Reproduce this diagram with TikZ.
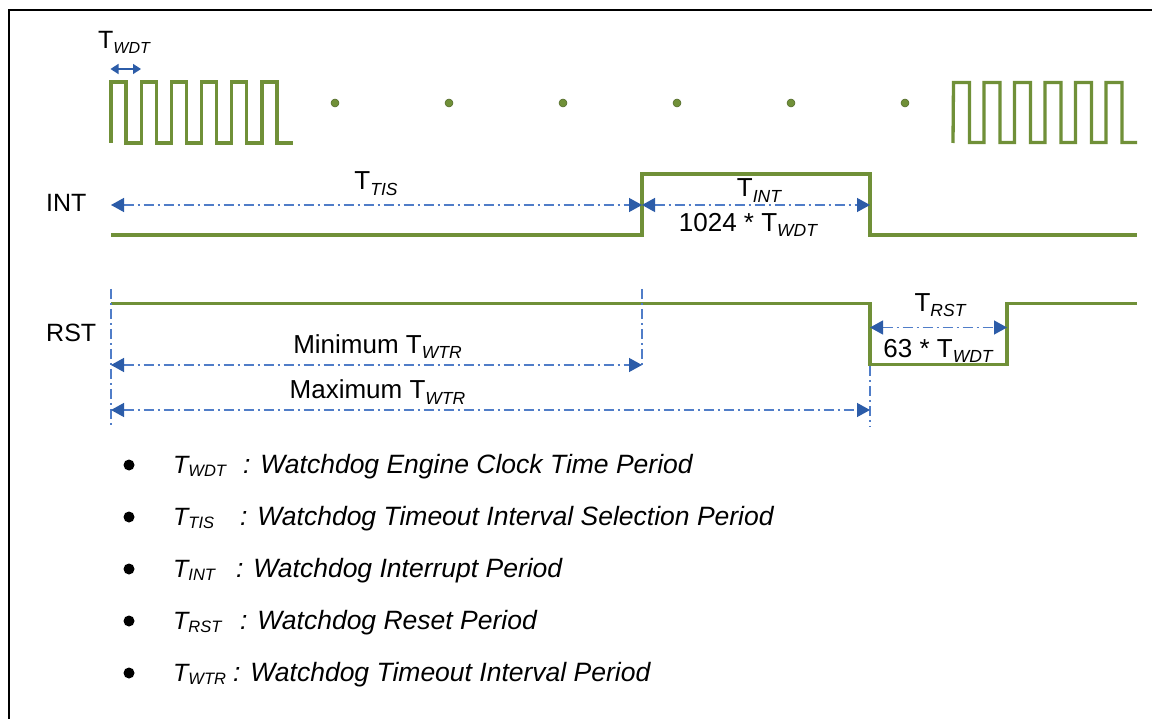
\documentclass[tikz,border=0pt]{standalone}
\usepackage{fontspec}
\setmainfont{Liberation Sans}
\usetikzlibrary{arrows.meta}
\definecolor{wave}{RGB}{112,144,56}
\definecolor{dimline}{RGB}{80,125,200}
\definecolor{dimhead}{RGB}{44,92,168}
\newcommand{\mainsz}{\fontsize{25}{28}\selectfont}
\newcommand{\lblsz}{\fontsize{26}{29}\selectfont}
\newcommand{\bulsz}{\fontsize{26.5}{30}\selectfont}
\newcommand{\sbs}[1]{\raisebox{-5.5pt}{\fontsize{17.5}{17.5}\selectfont\itshape #1}}
\newcommand{\sbt}[1]{\raisebox{-5.5pt}{\fontsize{16}{16}\selectfont\itshape #1}}
\newcommand{\sbb}[1]{\raisebox{-3pt}{\fontsize{16.5}{16.5}\selectfont\itshape #1}}
\tikzset{
  wavestyle/.style={draw=wave, line width=3.3pt, line join=miter},
  dimarrow/.style={draw=dimline, line width=1.3pt, dash pattern=on 10pt off 4pt on 2pt off 4pt,
     {Triangle[length=13pt,width=14pt,color=dimhead]}-{Triangle[length=13pt,width=14pt,color=dimhead]}},
  guide/.style={draw=dimline, line width=1.2pt, dash pattern=on 10pt off 4pt on 2pt off 4pt},
  lbl/.style={inner sep=0pt, font=\lblsz, anchor=base},
  bul/.style={inner sep=0pt, font=\bulsz\itshape, anchor=base west},
  gdot/.style={circle, fill=wave, draw=wave!70!black, line width=0.5pt, minimum size=8pt, inner sep=0pt},
}
\begin{document}
\begin{tikzpicture}[x=1pt,y=-1pt]
\useasboundingbox (0,0) rectangle (1152,719);
\fill[white] (0,0) rectangle (1152,719);
% frame
\draw[black, line width=1.4pt] (9,10) rectangle (1170,740);

% clock waveform left
\draw[wavestyle] (111,143)
  \foreach \i in {0,...,5} { -- ({111+30.2*\i},82) -- ({126+30.2*\i},82) -- ({126+30.2*\i},143) -- ({141.2+30.2*\i},143) }
  -- (293,143);
% clock waveform right
\draw[wavestyle] (953,143)
  \foreach \i in {0,...,5} { -- ({953.5+30.5*\i},82.5) -- ({969.5+30.5*\i},82.5) -- ({969.5+30.5*\i},142.5) -- ({984+30.5*\i},142.5) }
  -- (1137,142.5);
% dots
\foreach \x [count=\k] in {335,449,563,677,791,905} { \node[gdot] (d\k) at (\x,103) {}; }

% T_WDT
\coordinate (w1) at (110.5,69);
\coordinate (w2) at (141,69);
\draw[draw=dimhead, line width=1.5pt, {Triangle[length=8pt,width=10pt]}-{Triangle[length=8pt,width=10pt]}] (w1) -- (w2);
\node[lbl, font=\mainsz, anchor=base west] (twdt) at (98,48.5) {T\sbt{WDT}};

% INT waveform
\draw[wavestyle] (111,235) -- (642,235) -- (642,174) -- (870,174) -- (870,235) -- (1137,235);
\node[lbl, font=\mainsz, anchor=base west] (intl) at (46,212) {INT};

% RST waveform
\draw[wavestyle] (111,303.5) -- (870,303.5) -- (870,364.5) -- (1007,364.5) -- (1007,303.5) -- (1137,303.5);
\node[lbl, font=\mainsz, anchor=base west] (rstl) at (46,342) {RST};

% guide lines
\coordinate (g1a) at (111,289); \coordinate (g1b) at (111,427);
\coordinate (g2a) at (642,289); \coordinate (g2b) at (642,368);
\coordinate (g3a) at (870,366); \coordinate (g3b) at (870,427);
\draw[guide] (g1a) -- (g1b);
\draw[guide] (g2a) -- (g2b);
\draw[guide] (g3a) -- (g3b);

% dimension arrows
\coordinate (a1) at (111,205); \coordinate (a2) at (642,205); \coordinate (a3) at (870,205);
\draw[dimarrow] (a1) -- (a2);
\draw[dimarrow] (a2) -- (a3);
\node[lbl] (ttis) at (376,190) {T\sbs{TIS}};
\node[lbl] (tint) at (759,197) {T\sbs{INT}};
\node[lbl] (n1024) at (748,231.5) {1024 * T\sbs{WDT}};

\coordinate (r1) at (870,327.5); \coordinate (r2) at (1007,327.5);
\draw[dimarrow] (r1) -- (r2);
\node[lbl] (trst) at (940,311.5) {T\sbs{RST}};
\node[lbl] (n63) at (938,357.5) {63 * T\sbs{WDT}};

\coordinate (m1) at (111,365); \coordinate (m2) at (642,365);
\draw[dimarrow] (m1) -- (m2);
\node[lbl] (minl) at (377.5,353.5) {Minimum T\sbs{WTR}};
\coordinate (x1) at (111,410); \coordinate (x2) at (870,410);
\draw[dimarrow] (x1) -- (x2);
\node[lbl] (maxl) at (377.5,399) {Maximum T\sbs{WTR}};

% bullets
\foreach \y/\cx/\sb/\txt [count=\k] in {
  473.5/243/WDT/{: Watchdog Engine Clock Time Period},
  525.5/240/TIS/{: Watchdog Timeout Interval Selection Period},
  577.5/236/INT/{: Watchdog Interrupt Period},
  629.5/240/RST/{: Watchdog Reset Period},
  681.5/233/WTR/{: Watchdog Timeout Interval Period}} {
  \fill[black] (129,{\y-8.5}) circle (5.5pt);
  \node[bul, font=\mainsz\itshape] (bt\k) at (173,\y) {T\sbb{\sb}};
  \node[bul] (bd\k) at (\cx,\y) {\txt};
}
\end{tikzpicture}
\end{document}
